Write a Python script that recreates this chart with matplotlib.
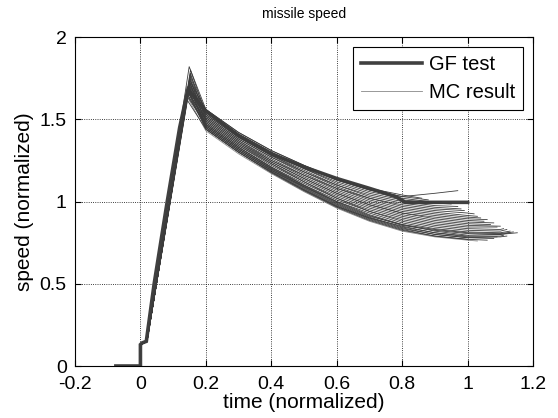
import matplotlib.pyplot as plt

plt.rcParams['font.family'] = ['Liberation Sans', 'DejaVu Sans']

# GF flight test
gf_time = [-0.075, 0.0, 0.0, 0.005, 0.018, 0.042, 0.082, 0.12, 0.145,
           0.2, 0.3, 0.4, 0.5, 0.6, 0.7, 0.78, 0.81, 1.0]
gf_speed = [0.0, 0.0, 0.13, 0.14, 0.15, 0.5, 1.0, 1.45, 1.68,
            1.55, 1.40, 1.29, 1.21, 1.14, 1.08, 1.03, 0.995, 0.995]

# shared launch points of the Monte Carlo runs
mc_launch_t = [0.0, 0.0, 0.02]
mc_launch_v = [0.0, 0.13, 0.15]

# peak of each MC run
mc_peak_t = [0.145, 0.147, 0.150, 0.144, 0.151, 0.146, 0.152, 0.143, 0.148, 0.150,
             0.145, 0.149, 0.153, 0.146, 0.148, 0.151, 0.147, 0.152, 0.150, 0.146,
             0.153, 0.149, 0.151, 0.152, 0.149, 0.150, 0.142, 0.145, 0.148, 0.144]
mc_peak_v = [1.63, 1.66, 1.70, 1.65, 1.72, 1.68, 1.75, 1.64, 1.69, 1.73,
             1.67, 1.71, 1.78, 1.66, 1.70, 1.74, 1.69, 1.76, 1.72, 1.68,
             1.80, 1.71, 1.74, 1.77, 1.82, 1.73, 1.62, 1.67, 1.70, 1.65]

# speed of each MC run at these times (as long as the run lasts)
mc_grid = [0.2, 0.3, 0.4, 0.5, 0.6, 0.7, 0.8, 0.9, 1.0, 1.1]
mc_speed = [
    [1.43, 1.29, 1.17, 1.06, 0.96, 0.88, 0.82, 0.785, 0.765],
    [1.44, 1.30, 1.18, 1.07, 0.97, 0.89, 0.83, 0.79, 0.77],
    [1.44, 1.30, 1.18, 1.07, 0.97, 0.90, 0.84, 0.80, 0.78],
    [1.45, 1.31, 1.19, 1.08, 0.98, 0.90, 0.85, 0.81, 0.785, 0.785],
    [1.45, 1.31, 1.19, 1.09, 0.99, 0.91, 0.86, 0.82, 0.795, 0.80],
    [1.46, 1.32, 1.20, 1.09, 1.00, 0.92, 0.86, 0.83, 0.81, 0.805],
    [1.46, 1.32, 1.20, 1.10, 1.00, 0.93, 0.87, 0.835, 0.815, 0.81],
    [1.47, 1.33, 1.21, 1.10, 1.01, 0.94, 0.88, 0.845, 0.825, 0.82],
    [1.47, 1.33, 1.21, 1.11, 1.02, 0.94, 0.89, 0.855, 0.835, 0.83],
    [1.48, 1.34, 1.22, 1.12, 1.02, 0.95, 0.90, 0.865, 0.845],
    [1.48, 1.34, 1.23, 1.12, 1.03, 0.96, 0.91, 0.875, 0.855, 0.85],
    [1.49, 1.35, 1.23, 1.13, 1.04, 0.97, 0.92, 0.885, 0.865],
    [1.49, 1.35, 1.24, 1.14, 1.05, 0.98, 0.93, 0.895, 0.875],
    [1.50, 1.36, 1.24, 1.14, 1.05, 0.98, 0.93, 0.905, 0.885],
    [1.50, 1.36, 1.25, 1.15, 1.06, 0.99, 0.94, 0.915, 0.895],
    [1.51, 1.37, 1.25, 1.16, 1.07, 1.00, 0.95, 0.925, 0.905],
    [1.51, 1.37, 1.26, 1.16, 1.08, 1.01, 0.96, 0.935, 0.915],
    [1.52, 1.38, 1.27, 1.17, 1.08, 1.02, 0.97, 0.945, 0.93],
    [1.52, 1.38, 1.27, 1.18, 1.09, 1.02, 0.98, 0.955],
    [1.53, 1.39, 1.28, 1.18, 1.10, 1.03, 0.99, 0.965],
    [1.53, 1.39, 1.28, 1.19, 1.10, 1.04, 1.00, 0.975],
    [1.54, 1.40, 1.29, 1.20, 1.11, 1.05, 1.01, 0.99],
    [1.55, 1.41, 1.30, 1.20, 1.12, 1.06, 1.02, 0.995],
    [1.55, 1.41, 1.30, 1.21, 1.13, 1.07, 1.03],
    [1.56, 1.42, 1.31, 1.22, 1.14, 1.08, 1.04],
    [1.56, 1.42, 1.31, 1.22, 1.13, 1.07, 1.03, 1.05],
    [1.44, 1.30, 1.175, 1.065, 0.965, 0.885, 0.825, 0.79, 0.77],
    [1.45, 1.31, 1.185, 1.075, 0.975, 0.895, 0.835, 0.80, 0.78],
    [1.46, 1.32, 1.195, 1.085, 0.985, 0.905, 0.845, 0.81, 0.79, 0.79],
    [1.47, 1.33, 1.205, 1.095, 0.995, 0.915, 0.855, 0.825, 0.805, 0.80],
]

# last point of each MC run
mc_end_t = [1.03, 1.06, 1.08, 1.12, 1.152, 1.14, 1.13, 1.12, 1.11, 1.09,
            1.10, 1.07, 1.08, 1.05, 1.06, 1.04, 1.03, 1.02, 0.99, 0.98,
            0.97, 0.95, 0.92, 0.88, 0.86, 0.97, 1.0, 1.09, 1.11, 1.13]
mc_end_v = [0.76, 0.765, 0.775, 0.79, 0.81, 0.815, 0.82, 0.83, 0.835, 0.845,
            0.85, 0.86, 0.87, 0.88, 0.89, 0.90, 0.91, 0.925, 0.945, 0.955,
            0.97, 0.985, 1.00, 1.01, 1.02, 1.066, 0.77, 0.785, 0.795, 0.81]

fig = plt.figure(figsize=(5.58, 4.18), dpi=100)
ax = fig.add_axes([0.1344, 0.1244, 0.8208, 0.787])

ax.plot(gf_time, gf_speed, color='#404040', lw=2.6, label='GF test',
        solid_joinstyle='miter')

for i in range(len(mc_speed)):
    n = len(mc_speed[i])
    t = mc_launch_t + [mc_peak_t[i]] + mc_grid[:n] + [mc_end_t[i]]
    v = mc_launch_v + [mc_peak_v[i]] + mc_speed[i] + [mc_end_v[i]]
    ax.plot(t, v, color='#3c3c3c', lw=0.6,
            label='MC result' if i == 0 else None)

ax.set_xlim(-0.2, 1.2)
ax.set_ylim(0, 2)
ax.set_xticks([-0.2, 0, 0.2, 0.4, 0.6, 0.8, 1.0, 1.2])
ax.set_xticklabels(['-0.2', '0', '0.2', '0.4', '0.6', '0.8', '1', '1.2'])
ax.set_yticks([0, 0.5, 1, 1.5, 2])
ax.set_yticklabels(['0', '0.5', '1', '1.5', '2'])
ax.grid(True, linestyle=':', color='black', lw=0.6)
ax.tick_params(direction='in', labelsize=14, length=4, top=True, right=True)
ax.tick_params(axis='x', pad=7)
ax.tick_params(axis='y', pad=6)
ax.set_xlabel('time (normalized)', fontsize=15, labelpad=0)
ax.set_ylabel('speed (normalized)', fontsize=15, labelpad=4)
ax.set_title('missile speed', fontsize=10, pad=14)

handles, labels = ax.get_legend_handles_labels()
handles[1].set_color('#888888')
leg = ax.legend(handles, labels, loc='upper right', fontsize=14.5,
                fancybox=False, edgecolor='black', framealpha=1,
                handlelength=3.0, handletextpad=0.35, borderaxespad=0.5,
                borderpad=0.4, labelspacing=0.45)
leg.get_frame().set_linewidth(0.8)

fig.savefig('out.png', dpi=100)
